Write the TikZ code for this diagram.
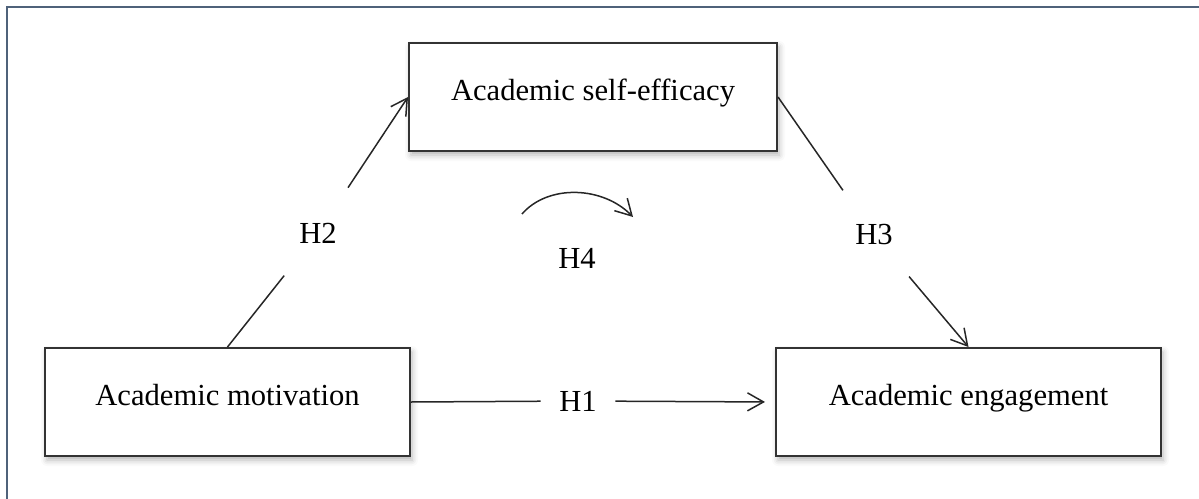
\documentclass[tikz,border=0pt]{standalone}
\usepackage{fontspec}
\setmainfont{Liberation Serif}
\usetikzlibrary{arrows.meta,shadows.blur}
\definecolor{framecol}{RGB}{79,98,122}
\begin{document}
\begin{tikzpicture}[x=0.5pt,y=-0.5pt,
  font=\fontsize{15.3}{18}\selectfont,
  var/.style={draw=black!80, line width=1pt, fill=white, minimum height=54pt,
    text height=10pt, text depth=6.5pt,
    blur shadow={shadow xshift=1pt, shadow yshift=-2pt, shadow blur radius=3pt, shadow opacity=30}},
  hgap/.style={circle, inner sep=0pt, minimum size=#1},
  link/.style={line width=0.75pt, draw=black!85},
  arr/.style={-{Straight Barb[length=8pt,width=9pt]}}]
\useasboundingbox (0,0) rectangle (1199,498);
\clip (0,0) rectangle (1199,498);
% frame
\draw[framecol, line width=1pt] (7,520) -- (7,7) -- (1220,7);
% variables
\node[var, minimum width=184pt] (eff) at (593,97) {Academic self-efficacy};
\node[var, minimum width=182.5pt] (mot) at (227.5,402) {Academic motivation};
\node[var, minimum width=192.5pt] (eng) at (968.5,402) {Academic engagement};
% hypotheses
\node[hgap=37pt] (h1) at (578,401) {H1};
\node[hgap=54pt] (h2) at (318,233) {H2};
\node[hgap=54pt] (h3) at (874,235) {H3};
\node (h4) at (577,258) {H4};
\coordinate (h4s) at (522,214);
\coordinate (h4e) at (633,217);
% paths
\draw[link] (mot.east) -- (h1);
\draw[link, arr, shorten >=5pt] (h1) -- (eng.west);
\draw[link] (mot.north) -- (h2);
\draw[link, arr] (h2) -- (eff.west);
\draw[link] (eff.east) -- (h3);
\draw[link, arr] (h3) -- (eng.north);
\draw[link, arr] (h4s) .. controls (548,184) and (603,186) .. (h4e);
\end{tikzpicture}
\end{document}
